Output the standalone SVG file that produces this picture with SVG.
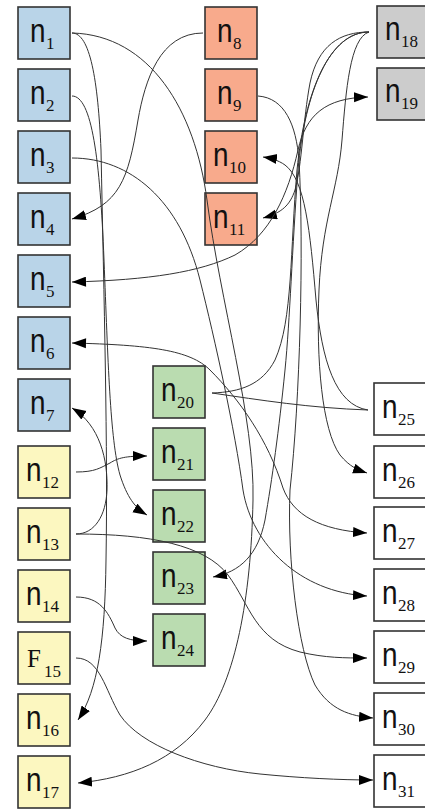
<svg xmlns="http://www.w3.org/2000/svg" width="425" height="810" viewBox="0 0 425 810">
<style>
  .box { stroke: #333; stroke-width: 1.6; }
  .blue { fill: #b9d4e8; }
  .orange { fill: #f8aa8c; }
  .gray { fill: #cccccc; }
  .green { fill: #badcb0; }
  .yellow { fill: #fcf7c0; }
  .white { fill: #ffffff; }
  .n { font-family: "Liberation Sans", Arial, sans-serif; font-size: 34px; fill: #111; }
  .s { font-family: "Liberation Serif", "Times New Roman", serif; font-size: 17px; fill: #111; }
  .f { font-family: "Liberation Serif", "Times New Roman", serif; font-size: 25px; fill: #111; }
  .e { fill: none; stroke: #333; stroke-width: 1; }
  .a { marker-end: url(#ah); }
  .b { marker-start: url(#ahs); marker-end: url(#ah); }
</style>
<defs>
  <marker id="ah" markerUnits="userSpaceOnUse" markerWidth="15" markerHeight="11" refX="14" refY="5" orient="auto">
    <path d="M0,0 L14,5 L0,10 z" fill="#000"/>
  </marker>
  <marker id="ahs" markerUnits="userSpaceOnUse" markerWidth="15" markerHeight="11" refX="0" refY="5" orient="auto">
    <path d="M14,0 L0,5 L14,10 z" fill="#000"/>
  </marker>
</defs>

<!-- blue column -->
<g id="n1"><rect class="box blue" x="18" y="7" width="52" height="52"/><text class="n" transform="translate(30,42) scale(0.82,1)">n</text><text class="s" x="46" y="49">1</text></g>
<g id="n2"><rect class="box blue" x="18" y="69" width="52" height="52"/><text class="n" transform="translate(30,104) scale(0.82,1)">n</text><text class="s" x="46" y="111">2</text></g>
<g id="n3"><rect class="box blue" x="18" y="131" width="52" height="52"/><text class="n" transform="translate(30,166) scale(0.82,1)">n</text><text class="s" x="46" y="173">3</text></g>
<g id="n4"><rect class="box blue" x="18" y="193" width="52" height="52"/><text class="n" transform="translate(30,228) scale(0.82,1)">n</text><text class="s" x="46" y="235">4</text></g>
<g id="n5"><rect class="box blue" x="18" y="255" width="52" height="52"/><text class="n" transform="translate(30,290) scale(0.82,1)">n</text><text class="s" x="46" y="297">5</text></g>
<g id="n6"><rect class="box blue" x="18" y="317" width="52" height="52"/><text class="n" transform="translate(30,352) scale(0.82,1)">n</text><text class="s" x="46" y="359">6</text></g>
<g id="n7"><rect class="box blue" x="18" y="379" width="52" height="52"/><text class="n" transform="translate(30,414) scale(0.82,1)">n</text><text class="s" x="46" y="421">7</text></g>

<!-- yellow column -->
<g id="n12"><rect class="box yellow" x="18" y="446" width="52" height="52"/><text class="n" transform="translate(26,481) scale(0.82,1)">n</text><text class="s" x="42" y="488">12</text></g>
<g id="n13"><rect class="box yellow" x="18" y="508" width="52" height="52"/><text class="n" transform="translate(26,543) scale(0.82,1)">n</text><text class="s" x="42" y="550">13</text></g>
<g id="n14"><rect class="box yellow" x="18" y="570" width="52" height="52"/><text class="n" transform="translate(26,605) scale(0.82,1)">n</text><text class="s" x="42" y="612">14</text></g>
<g id="n15"><rect class="box yellow" x="18" y="632" width="52" height="52"/><text class="f" x="27" y="667">F</text><text class="s" x="44" y="677">15</text></g>
<g id="n16"><rect class="box yellow" x="18" y="694" width="52" height="52"/><text class="n" transform="translate(26,729) scale(0.82,1)">n</text><text class="s" x="42" y="736">16</text></g>
<g id="n17"><rect class="box yellow" x="18" y="756" width="52" height="52"/><text class="n" transform="translate(26,791) scale(0.82,1)">n</text><text class="s" x="42" y="798">17</text></g>

<!-- orange column -->
<g id="n8"><rect class="box orange" x="205" y="7" width="52" height="52"/><text class="n" transform="translate(217,42) scale(0.82,1)">n</text><text class="s" x="233" y="49">8</text></g>
<g id="n9"><rect class="box orange" x="205" y="69" width="52" height="52"/><text class="n" transform="translate(217,104) scale(0.82,1)">n</text><text class="s" x="233" y="111">9</text></g>
<g id="n10"><rect class="box orange" x="205" y="131" width="52" height="52"/><text class="n" transform="translate(213,166) scale(0.82,1)">n</text><text class="s" x="229" y="173">10</text></g>
<g id="n11"><rect class="box orange" x="205" y="193" width="52" height="52"/><text class="n" transform="translate(213,228) scale(0.82,1)">n</text><text class="s" x="229" y="235">11</text></g>

<!-- gray column -->
<g id="n18"><rect class="box gray" x="377" y="6" width="52" height="52"/><text class="n" transform="translate(385,40) scale(0.82,1)">n</text><text class="s" x="401" y="47">18</text></g>
<g id="n19"><rect class="box gray" x="377" y="68" width="52" height="52"/><text class="n" transform="translate(385,102) scale(0.82,1)">n</text><text class="s" x="401" y="109">19</text></g>

<!-- green column -->
<g id="n20"><rect class="box green" x="153" y="366" width="52" height="52"/><text class="n" transform="translate(161,401) scale(0.82,1)">n</text><text class="s" x="177" y="408">20</text></g>
<g id="n21"><rect class="box green" x="153" y="428" width="52" height="52"/><text class="n" transform="translate(161,463) scale(0.82,1)">n</text><text class="s" x="177" y="470">21</text></g>
<g id="n22"><rect class="box green" x="153" y="490" width="52" height="52"/><text class="n" transform="translate(161,525) scale(0.82,1)">n</text><text class="s" x="177" y="532">22</text></g>
<g id="n23"><rect class="box green" x="153" y="552" width="52" height="52"/><text class="n" transform="translate(161,587) scale(0.82,1)">n</text><text class="s" x="177" y="594">23</text></g>
<g id="n24"><rect class="box green" x="153" y="614" width="52" height="52"/><text class="n" transform="translate(161,649) scale(0.82,1)">n</text><text class="s" x="177" y="656">24</text></g>

<!-- white column -->
<g id="n25"><rect class="box white" x="374" y="383" width="52" height="52"/><text class="n" transform="translate(382,418) scale(0.82,1)">n</text><text class="s" x="398" y="425">25</text></g>
<g id="n26"><rect class="box white" x="374" y="446" width="52" height="52"/><text class="n" transform="translate(382,481) scale(0.82,1)">n</text><text class="s" x="398" y="488">26</text></g>
<g id="n27"><rect class="box white" x="374" y="507" width="52" height="52"/><text class="n" transform="translate(382,542) scale(0.82,1)">n</text><text class="s" x="398" y="549">27</text></g>
<g id="n28"><rect class="box white" x="374" y="569" width="52" height="52"/><text class="n" transform="translate(382,604) scale(0.82,1)">n</text><text class="s" x="398" y="611">28</text></g>
<g id="n29"><rect class="box white" x="374" y="631" width="52" height="52"/><text class="n" transform="translate(382,666) scale(0.82,1)">n</text><text class="s" x="398" y="673">29</text></g>
<g id="n30"><rect class="box white" x="374" y="693" width="52" height="52"/><text class="n" transform="translate(382,728) scale(0.82,1)">n</text><text class="s" x="398" y="735">30</text></g>
<g id="n31"><rect class="box white" x="374" y="755" width="52" height="52"/><text class="n" transform="translate(382,790) scale(0.82,1)">n</text><text class="s" x="398" y="797">31</text></g>

<!-- connectors, drawn over the boxes -->
<g id="edges">
  <path class="e a" d="M72,33 C150,35 195,110 207,200 C220,300 255,420 253,500 C251,600 235,680 205,720 C175,760 130,778 78,783"/>
  <path class="e a" d="M72,33 C90,33 98,80 101,150 C104,300 108,450 106,560 C105,640 98,690 78,720"/>
  <path class="e a" d="M72,96 C92,96 100,160 104,260 C108,360 110,440 120,475 C127,497 135,508 147,515"/>
  <path class="e a" d="M72,158 C130,158 180,200 200,280 C215,340 235,430 243,490 C252,545 300,592 367,596"/>
  <path class="e a" d="M203,33 C160,33 145,80 138,120 C128,180 120,205 72,219"/>
  <path class="e a" d="M258,96 C285,98 296,125 299,160 C304,250 300,400 290,490 C287,560 298,650 315,685 C330,710 350,716 373,718"/>
  <path class="e a" d="M368,410 C335,405 322,360 316,300 C310,230 305,180 285,165 C278,160 270,158 263,157"/>
  <path class="e b" d="M72,343 C150,345 190,350 210,370 C240,400 268,440 283,488 C293,515 320,530 367,533"/>
  <path class="e" d="M212,393 C260,400 310,408 368,410"/>
  <path class="e a" d="M369,32 C340,32 318,45 310,83 C303,120 302,165 295,190 C290,205 282,213 263,218"/>
  <path class="e a" d="M369,32 C330,32 305,90 298,170 C292,250 290,320 285,370 C279,430 272,480 265,520 C258,555 240,572 213,577"/>
  <path class="e" d="M369,32 C330,32 305,90 297,170 C290,250 293,320 275,360 C262,385 240,392 212,393"/>
  <path class="e a" d="M369,32 C350,38 346,90 342,140 C338,190 322,220 319,290 C316,360 322,430 340,455 C350,467 358,470 367,473"/>
  <path class="e b" d="M72,282 C150,280 200,272 235,255 C270,235 288,195 298,150 C306,115 325,98 368,97"/>
  <path class="e a" d="M76,472 C95,472 100,468 110,463 C118,458 125,456 147,456"/>
  <path class="e a" d="M76,534 C95,534 106,515 107,490 C108,460 100,425 72,408"/>
  <path class="e a" d="M76,534 C150,534 205,545 228,575 C250,605 255,640 300,652 C325,658 345,658 367,658"/>
  <path class="e a" d="M76,597 C100,597 108,612 115,628 C120,638 130,641 147,641"/>
  <path class="e a" d="M76,658 C100,658 105,690 120,715 C140,745 200,768 260,774 C300,778 340,780 373,780"/>
</g>
</svg>
